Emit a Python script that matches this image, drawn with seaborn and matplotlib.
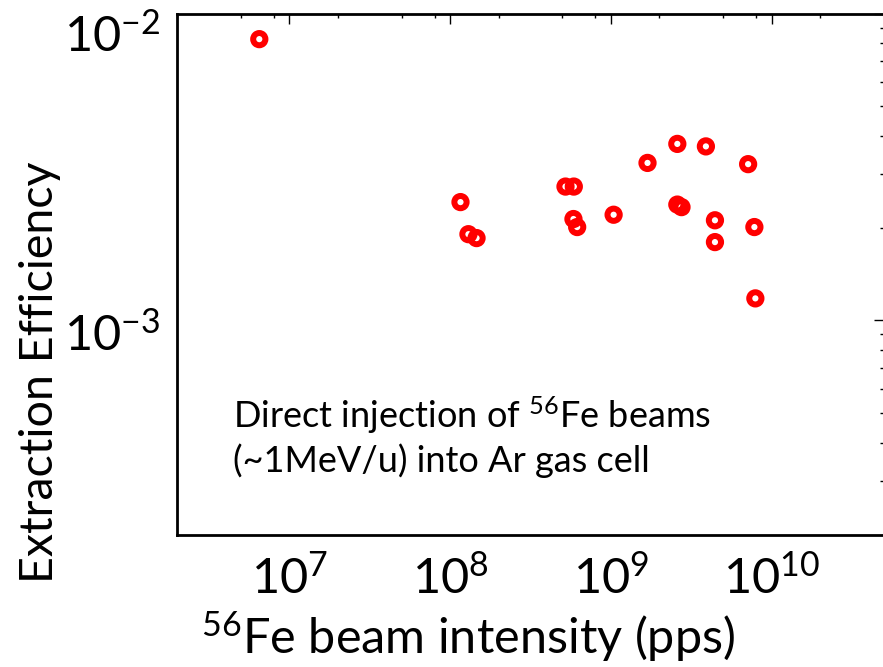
import numpy as np
import pandas as pd
import matplotlib
matplotlib.use("Agg")
import matplotlib.pyplot as plt
from matplotlib.ticker import LogLocator, NullFormatter
from matplotlib.transforms import ScaledTranslation
import seaborn as sns

# Beam intensity (pps) and extraction efficiency for each measurement
intensity = [6.5e6, 1.16e8, 1.30e8, 1.46e8, 5.22e8, 5.88e8, 5.85e8, 6.17e8,
             1.04e9, 1.69e9, 2.59e9, 2.59e9, 2.75e9, 3.90e9, 4.44e9, 4.44e9,
             7.14e9, 7.81e9, 7.92e9]
efficiency = [8.25e-3, 2.43e-3, 1.91e-3, 1.855e-3, 2.73e-3, 2.73e-3, 2.14e-3,
              2.015e-3, 2.21e-3, 3.26e-3, 3.76e-3, 2.385e-3, 2.34e-3, 3.69e-3,
              2.12e-3, 1.80e-3, 3.23e-3, 2.015e-3, 1.18e-3]

x_label = r"$^{56}$Fe beam intensity (pps)"
y_label = "Extraction Efficiency"
note_lines = [r"Direct injection of $^{56}$Fe beams", "(~1MeV/u) into Ar gas cell"]

df = pd.DataFrame({"intensity": intensity, "efficiency": efficiency})

sns.set_theme(style="white")
plt.rcParams["font.family"] = ["Lato", "DejaVu Sans"]
plt.rcParams["mathtext.fontset"] = "custom"
plt.rcParams["mathtext.rm"] = "Lato"
plt.rcParams["mathtext.it"] = "Lato:italic"
plt.rcParams["mathtext.bf"] = "Lato:bold"
for key in ["text.color", "axes.labelcolor", "xtick.color", "ytick.color",
            "axes.edgecolor"]:
    plt.rcParams[key] = "black"

fig = plt.figure(figsize=(8.83, 6.67), dpi=100)
ax = fig.add_axes([177 / 883, 1 - 535 / 667, 707 / 883, 521.5 / 667])

sns.scatterplot(data=df, x="intensity", y="efficiency", ax=ax, marker="o",
                s=78, facecolor="none", edgecolor="#ff0000", linewidth=4.3,
                legend=False, zorder=3)

ax.set_xscale("log")
ax.set_yscale("log")
ax.set_xlim(2e6, 5e10)
ax.set_ylim(2e-4, 1e-2)

ax.xaxis.set_major_locator(LogLocator(base=10, numticks=20))
ax.xaxis.set_minor_locator(LogLocator(base=10, subs=[2, 5, 8], numticks=20))
ax.yaxis.set_major_locator(LogLocator(base=10, numticks=20))
ax.yaxis.set_minor_locator(LogLocator(base=10, subs=np.arange(2, 10), numticks=20))
ax.xaxis.set_minor_formatter(NullFormatter())
ax.yaxis.set_minor_formatter(NullFormatter())

for side in ["left", "right", "top", "bottom"]:
    ax.spines[side].set_visible(True)
    ax.spines[side].set_linewidth(2)
    ax.spines[side].set_color("black")

ax.tick_params(which="both", direction="in", top=True, right=True,
               color="black", width=1)
ax.tick_params(which="major", length=7)
ax.tick_params(which="minor", length=3)
ax.tick_params(axis="x", which="major", labelsize=35, pad=14)
ax.tick_params(axis="y", which="major", labelsize=35, pad=12)

ax.set_xlabel(x_label, fontsize=35)
ax.xaxis.label.set_va("baseline")
ax.xaxis.set_label_coords(0.4116, -0.2263)

ax.set_ylabel(y_label, fontsize=33.5, rotation=90, rotation_mode="anchor",
              ha="center", va="baseline")
ax.yaxis.set_label_coords(-0.1754, 0.3126)

ax.text(0.079, 0.205, note_lines[0], transform=ax.transAxes, fontsize=26,
        ha="left", va="baseline")
ax.text(0.079, 0.121, note_lines[1], transform=ax.transAxes, fontsize=26,
        ha="left", va="baseline")

# drop the y tick labels a little below their ticks (the top one a bit more)
fig.canvas.draw()
for tick in ax.yaxis.get_major_ticks():
    loc = tick.get_loc()
    if not (2e-4 <= loc <= 1e-2):
        continue
    dy = -19 if np.isclose(loc, 1e-2) else -11
    lab = tick.label1
    lab.set_transform(lab.get_transform() + ScaledTranslation(0, dy / 100, fig.dpi_scale_trans))

fig.savefig("out.png", dpi=100)
